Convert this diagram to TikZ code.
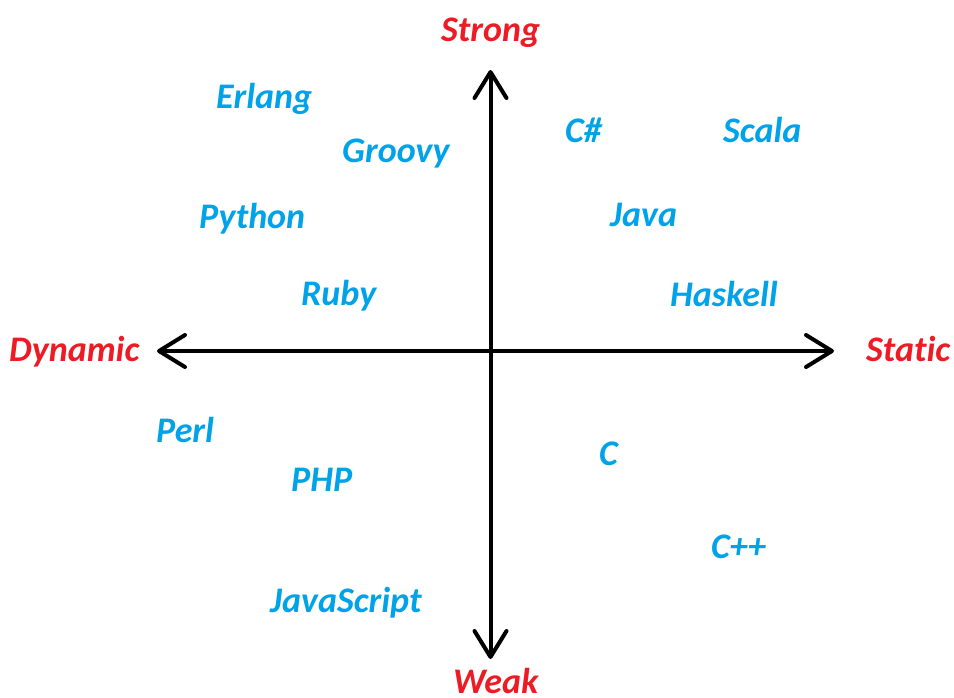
\documentclass[tikz,border=0pt]{standalone}
\usepackage{fontspec}
\setmainfont{Carlito}[Ligatures=NoCommon]
\usetikzlibrary{arrows.meta}
\definecolor{lblue}{HTML}{00A2E8}
\definecolor{lred}{HTML}{ED1C24}
\tikzset{
  lang/.style={inner sep=0pt, anchor=base west, text=lblue, font=\fontsize{36}{42}\selectfont\bfseries\itshape},
  axislbl/.style={inner sep=0pt, anchor=base west, text=lred, font=\fontsize{36}{42}\selectfont\bfseries\itshape},
  axis/.style={line width=4pt, line cap=round, -{Straight Barb[length=26pt,width=32pt,round]}}
}
\begin{document}
\begin{tikzpicture}[x=1pt,y=-1pt]
\useasboundingbox (0,0) rectangle (954,697);
\coordinate (o) at (490.5,351);
\coordinate (top) at (490.5,70);
\coordinate (bot) at (490.5,659);
\coordinate (lft) at (157,351);
\coordinate (rgt) at (834,351);
\draw[axis] (o) -- (top);
\draw[axis] (o) -- (bot);
\draw[axis] (o) -- (lft);
\draw[axis] (o) -- (rgt);
\node[axislbl] (strong) at (441,41) {Strong};
\node[axislbl] (weak) at (453,693) {Weak};
\node[axislbl] (dynamic) at (9,361) {Dynamic};
\node[axislbl] (static) at (866,361.5) {Static};
\node[lang] (erlang) at (216,108) {Erlang};
\node[lang] (groovy) at (342,162) {Groovy};
\node[lang] (python) at (199,228) {Python};
\node[lang] (ruby) at (301,305.5) {Ruby};
\node[lang] (csharp) at (565,142.5) {C\#};
\node[lang] (scala) at (723,142.5) {Scala};
\node[lang] (java) at (610,226.5) {Java};
\node[lang] (haskell) at (670,306) {Haskell};
\node[lang] (perl) at (156,442.5) {Perl};
\node[lang] (php) at (291,491.5) {PHP};
\node[lang] (c) at (599,465.5) {C};
\node[lang] (cpp) at (711,558.5) {C++};
\node[lang] (js) at (270,612) {JavaScript};
\end{tikzpicture}
\end{document}
